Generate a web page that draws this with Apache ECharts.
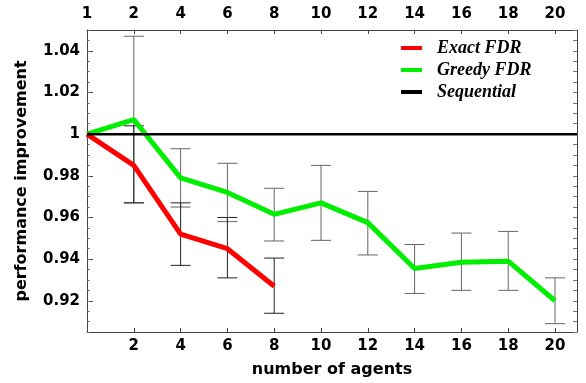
<!DOCTYPE html>
<html><head><meta charset="utf-8">
<script src="https://cdn.jsdelivr.net/npm/echarts@6/dist/echarts.min.js"></script>
<style>html,body{margin:0;padding:0;background:#fff}#c{width:586px;height:383px}</style>
</head><body><div id="c"></div>
<script>
// x categories (number of agents), plotted at equal spacing
var xLabels = ['1','2','4','6','8','10','12','14','16','18','20'];
var yTickLabels = [0.92, 0.94, 0.96, 0.98, 1.00, 1.02, 1.04];

var exactMean = [1.000, 0.985, 0.952, 0.945, 0.927];
var exactLow  = [null, 0.967, 0.937, 0.931, 0.914];
var exactHigh = [null, 1.004, 0.967, 0.960, 0.9405];

var greedyMean = [1.000, 1.007, 0.979, 0.972, 0.9615, 0.967, 0.9575, 0.9355, 0.9385, 0.939, 0.920];
var greedyLow  = [null, 0.967, 0.965, 0.958, 0.9487, 0.949, 0.942, 0.9235, 0.925, 0.925, 0.909];
var greedyHigh = [null, 1.047, 0.993, 0.986, 0.974, 0.985, 0.9725, 0.947, 0.9525, 0.9533, 0.931];

var sequentialValue = 1.0;

var X_MIN = 0, X_MAX = 10.47, Y_MIN = 0.905, Y_MAX = 1.05;

var idx = xLabels.map(function(_, i){ return i; });
var minorY = [];
for (var k = 0; k <= 29; k++) minorY.push(+(Y_MIN + k * 0.005).toFixed(3));

function pts(arr){ return arr.map(function(v,i){ return [i, v]; }); }
function errData(lo, hi){
  var out = [];
  for (var i = 0; i < lo.length; i++) if (lo[i] != null) out.push([i, lo[i], hi[i]]);
  return out;
}
function errRender(color){
  return function(params, api){
    var x = api.value(0);
    var p1 = api.coord([x, api.value(1)]);
    var p2 = api.coord([x, api.value(2)]);
    var w = 10;
    var st = {stroke: color, lineWidth: 1};
    return {type: 'group', children: [
      {type:'line', shape:{x1:p1[0], y1:p1[1], x2:p2[0], y2:p2[1]}, style: st},
      {type:'line', shape:{x1:p1[0]-w, y1:p1[1], x2:p1[0]+w, y2:p1[1]}, style: st},
      {type:'line', shape:{x1:p2[0]-w, y1:p2[1], x2:p2[0]+w, y2:p2[1]}, style: st}
    ]};
  };
}

var axisCol = '#444';
var lblStyle = {fontFamily:'DejaVu Sans', fontWeight:'bold', fontSize:15, color:'#000'};
var fmtY = function(v){ return String(Number(v.toFixed(2))); };

var chart = echarts.init(document.getElementById('c'), null, {renderer:'canvas'});
chart.setOption({
  animation: false,
  backgroundColor: '#fff',
  grid: {left: 87, right: 9, top: 30, bottom: 49},
  legend: {
    orient: 'vertical', left: 396, top: 34, itemWidth: 21, itemHeight: 4, itemGap: 4,
    icon: 'rect',
    data: ['Exact FDR', 'Greedy FDR', 'Sequential'],
    textStyle: {fontFamily: 'Liberation Serif', fontStyle: 'italic', fontWeight: 'bold', fontSize: 18, color: '#000', padding: [0,0,0,10]}
  },
  xAxis: [
    {type:'value', position:'bottom', min:X_MIN, max:X_MAX,
     name:'number of agents', nameLocation:'middle', nameGap:30,
     nameTextStyle:{fontFamily:'DejaVu Sans', fontWeight:'bold', fontSize:16, color:'#000'},
     axisLine:{show:true, lineStyle:{color:axisCol, width:1}},
     axisTick:{show:true, inside:true, length:4, customValues: idx.slice(1), lineStyle:{color:axisCol}},
     axisLabel:Object.assign({customValues: idx.slice(1), margin:7, formatter:function(v){ return xLabels[Math.round(v)] || ''; }}, lblStyle),
     splitLine:{show:false}},
    {type:'value', position:'top', min:X_MIN, max:X_MAX,
     axisLine:{show:true, lineStyle:{color:axisCol, width:1}},
     axisTick:{show:true, inside:true, length:4, customValues: idx, lineStyle:{color:axisCol}},
     axisLabel:Object.assign({customValues: idx, margin:8, formatter:function(v){ return xLabels[Math.round(v)] || ''; }}, lblStyle),
     splitLine:{show:false}}
  ],
  yAxis: [
    {type:'value', position:'left', min:Y_MIN, max:Y_MAX,
     name:'performance improvement', nameLocation:'middle', nameGap:57,
     nameTextStyle:{fontFamily:'DejaVu Sans', fontWeight:'bold', fontSize:16, color:'#000'},
     axisLine:{show:true, lineStyle:{color:axisCol, width:1}},
     axisTick:{show:true, inside:true, length:6, customValues: yTickLabels, lineStyle:{color:axisCol}},
     axisLabel:Object.assign({customValues: yTickLabels, margin:7, formatter: fmtY}, lblStyle),
     splitLine:{show:false}},
    {type:'value', position:'left', min:Y_MIN, max:Y_MAX,
     axisLine:{show:false},
     axisTick:{show:true, inside:true, length:3, customValues: minorY, lineStyle:{color:'#777'}},
     axisLabel:{show:false}, splitLine:{show:false}},
    {type:'value', position:'right', min:Y_MIN, max:Y_MAX,
     axisLine:{show:true, lineStyle:{color:axisCol, width:1}},
     axisTick:{show:true, inside:true, length:4, customValues: minorY, lineStyle:{color:'#777'}},
     axisLabel:{show:false}, splitLine:{show:false}}
  ],
  series: [
    {name:'Greedy err', type:'custom', xAxisIndex:0, yAxisIndex:0, z:2,
     renderItem: errRender('#666'), data: errData(greedyLow, greedyHigh), silent:true},
    {name:'Exact err', type:'custom', xAxisIndex:0, yAxisIndex:0, z:2,
     renderItem: errRender('#222'), data: errData(exactLow, exactHigh), silent:true},
    {name:'Exact FDR', type:'line', xAxisIndex:0, yAxisIndex:0, z:4, data: pts(exactMean),
     showSymbol:false, symbol:'none', color:'#ff0000', lineStyle:{color:'#ff0000', width:5}},
    {name:'Greedy FDR', type:'line', xAxisIndex:0, yAxisIndex:0, z:3, data: pts(greedyMean),
     showSymbol:false, symbol:'none', color:'#00ee00', lineStyle:{color:'#00ee00', width:5}},
    {name:'Sequential', type:'line', xAxisIndex:0, yAxisIndex:0, z:5,
     data: [[X_MIN, sequentialValue], [X_MAX, sequentialValue]],
     showSymbol:false, symbol:'none', color:'#000', lineStyle:{color:'#000', width:2.5}}
  ]
});
</script></body></html>
